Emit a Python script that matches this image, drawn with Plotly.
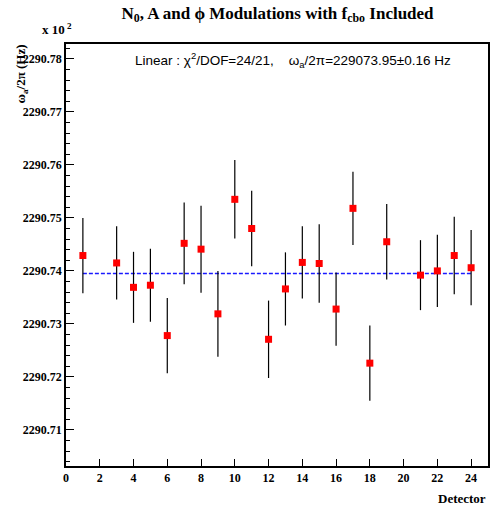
import plotly.graph_objects as go

detectors = [1, 3, 4, 5, 6, 7, 8, 9, 10, 11, 12, 13, 14, 15, 16, 17, 18, 19, 21, 22, 23, 24]
omega_a = [2290.7429, 2290.7415, 2290.7369, 2290.7373, 2290.7278, 2290.7452, 2290.7441,
           2290.7319, 2290.7535, 2290.7480, 2290.7271, 2290.7366, 2290.7416, 2290.7414,
           2290.7328, 2290.7518, 2290.7226, 2290.7455, 2290.7392, 2290.7400, 2290.7429,
           2290.7406]
omega_err = [0.0071, 0.0069, 0.0067, 0.0069, 0.0071, 0.0077, 0.0082, 0.0081, 0.0074,
             0.0071, 0.0073, 0.0069, 0.0068, 0.0074, 0.0069, 0.0069, 0.0071, 0.0071,
             0.0066, 0.0068, 0.0073, 0.0071]
fit_x = [1, 24]
fit_value = 2290.7395
x_ticks = list(range(0, 25, 2))
y_ticks = [2290.71, 2290.72, 2290.73, 2290.74, 2290.75, 2290.76, 2290.77, 2290.78]

serif = "Liberation Serif, Times New Roman, serif"
sans = "Liberation Sans, Arial, sans-serif"

fig = go.Figure()
fig.add_trace(go.Scatter(
    x=fit_x, y=[fit_value] * len(fit_x), mode="lines",
    line=dict(color="#1a1aff", width=1.5, dash="4px,2px"),
    hoverinfo="skip", showlegend=False))
fig.add_trace(go.Scatter(
    x=detectors, y=omega_a, mode="markers",
    marker=dict(symbol="square", size=7, color="#ff0000"),
    error_y=dict(type="data", array=omega_err, color="black", thickness=1.2, width=0),
    showlegend=False))

fig.update_layout(
    width=492, height=506,
    margin=dict(l=66, r=4, t=44, b=40),
    paper_bgcolor="white", plot_bgcolor="white",
    font=dict(family=serif, color="black"),
    title=dict(
        text="N<sub>0</sub>, A and ϕ Modulations with f<sub>cbo</sub> Included",
        x=0.564, xanchor="center", y=0.975, yanchor="middle",
        font=dict(family=serif, size=17, weight="bold", color="black")),
    xaxis=dict(
        range=[0, 25], tickvals=x_ticks, ticktext=[str(v) for v in x_ticks],
        ticks="inside", ticklen=7, tickcolor="black", tickwidth=1,
        showline=True, linecolor="black", linewidth=1.5, mirror=True,
        showgrid=False, zeroline=False, automargin=False,
        tickfont=dict(family=serif, size=12, weight="bold", color="black")),
    yaxis=dict(
        range=[2290.7032, 2290.7828], tickvals=y_ticks,
        ticktext=[f"{v:.2f}" for v in y_ticks],
        ticks="inside", ticklen=8, tickcolor="black", tickwidth=1,
        minor=dict(dtick=0.002, tick0=2290.70, ticks="inside", ticklen=4,
                   tickcolor="black", showgrid=False),
        showline=True, linecolor="black", linewidth=1.5, mirror=True,
        showgrid=False, zeroline=False, automargin=False,
        tickfont=dict(family=serif, size=12, weight="bold", color="black")),
)

fig.add_annotation(
    text="<b>x 10<sup> 2</sup></b>", xref="paper", yref="paper",
    x=0.018, y=1.012, xanchor="right", yanchor="bottom", showarrow=False,
    font=dict(family=serif, size=13, color="black"))
fig.add_annotation(
    text="<b>ω<sub>a</sub>/2π (Hz)</b>", xref="paper", yref="paper",
    x=-0.105, y=1.004, xanchor="center", yanchor="top", textangle=-90,
    showarrow=False, font=dict(family=serif, size=13, color="black"))
fig.add_annotation(
    text="Linear : χ<sup>2</sup>/DOF=24/21,    ω<sub>a</sub>/2π=229073.95±0.16 Hz",
    xref="paper", yref="paper", x=0.159, y=0.962, xanchor="left", yanchor="middle",
    showarrow=False, font=dict(family=sans, size=13.5, color="black"))
fig.add_annotation(
    text="<b>Detector</b>", xref="paper", yref="paper",
    x=1.0, y=-0.055, xanchor="right", yanchor="top", showarrow=False,
    font=dict(family=serif, size=13, color="black"))

fig.write_html("out.html", config={"displayModeBar": False},
               post_script="document.body.style.margin='0px';")
